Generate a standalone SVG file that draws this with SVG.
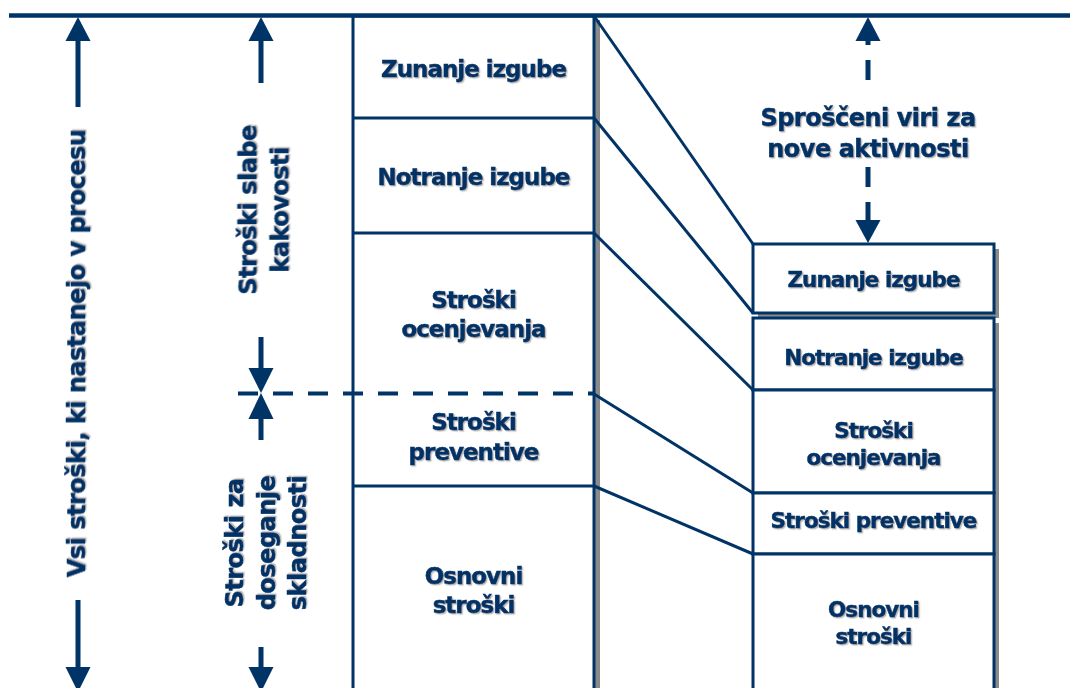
<svg xmlns="http://www.w3.org/2000/svg" width="1070" height="688" viewBox="0 0 1070 688">
  <style>
    .ln { stroke: #003366; fill: none; }
    .box { fill: #ffffff; stroke: #003366; stroke-width: 3; }
    .shadow { fill: #8a8a8a; }
    .lbl { font-family: "DejaVu Sans", Verdana, sans-serif; font-weight: bold; fill: #003366; stroke: #003366; stroke-width: 0.5px; text-anchor: middle; filter: url(#ts); }
    .big { font-size: 23px; letter-spacing: -1px; }
    .mid { font-size: 21.5px; letter-spacing: -1px; }
    .side { font-size: 24px; letter-spacing: -0.5px; }
    .head { fill: #003366; }
  </style>
  <defs>
    <filter id="ts" x="-10%" y="-20%" width="120%" height="150%">
      <feDropShadow dx="1.3" dy="1.3" stdDeviation="0.6" flood-color="#7a7a7a" flood-opacity="0.55"/>
    </filter>
  </defs>

  <rect width="1070" height="688" fill="#ffffff"/>

  <!-- left cost column -->
  <g id="left-column">
    <rect class="shadow" x="595" y="20" width="5" height="680"/>
    <rect class="box" x="353" y="16" width="241" height="700"/>
    <line class="ln" stroke-width="3" x1="353" y1="118" x2="594" y2="118"/>
    <line class="ln" stroke-width="3" x1="353" y1="233" x2="594" y2="233"/>
    <line class="ln" stroke-width="3" x1="353" y1="486" x2="594" y2="486"/>
  </g>

  <g id="left-zunanje"><text class="lbl big" x="473.5" y="77">Zunanje izgube</text></g>
  <g id="left-notranje"><text class="lbl big" x="473.5" y="185">Notranje izgube</text></g>
  <g id="left-ocenjevanje">
    <text class="lbl big" x="473.5" y="308">Stroški</text>
    <text class="lbl big" x="473.5" y="337">ocenjevanja</text>
  </g>
  <g id="left-preventiva">
    <text class="lbl big" x="473.5" y="430">Stroški</text>
    <text class="lbl big" x="473.5" y="460">preventive</text>
  </g>
  <g id="left-osnovni">
    <text class="lbl big" x="473.5" y="584">Osnovni</text>
    <text class="lbl big" x="473.5" y="613">stroški</text>
  </g>

  <!-- right cost column -->
  <g id="right-zunanje">
    <rect class="shadow" x="758" y="249" width="241" height="69"/>
    <rect class="box" x="753" y="244" width="241" height="69"/>
    <text class="lbl mid" x="873.5" y="287">Zunanje izgube</text>
  </g>
  <g id="right-notranje">
    <rect class="shadow" x="758" y="323" width="241" height="72"/>
    <rect class="box" x="753" y="318" width="241" height="72"/>
    <text class="lbl mid" x="873.5" y="365">Notranje izgube</text>
  </g>
  <g id="right-ocenjevanje">
    <rect class="shadow" x="758" y="395" width="241" height="103"/>
    <rect class="box" x="753" y="390" width="241" height="103"/>
    <text class="lbl mid" x="873.5" y="438">Stroški</text>
    <text class="lbl mid" x="873.5" y="465">ocenjevanja</text>
  </g>
  <g id="right-preventiva">
    <rect class="shadow" x="758" y="498" width="241" height="61"/>
    <rect class="box" x="753" y="493" width="241" height="61"/>
    <text class="lbl mid" x="873.5" y="528">Stroški preventive</text>
  </g>
  <g id="right-osnovni">
    <rect class="shadow" x="758" y="559" width="241" height="160"/>
    <rect class="box" x="753" y="554" width="241" height="160"/>
    <text class="lbl mid" x="873.5" y="617">Osnovni</text>
    <text class="lbl mid" x="873.5" y="644">stroški</text>
  </g>

  <!-- side labels -->
  <g id="label-vsi">
    <text class="lbl side" transform="translate(85,353.5) rotate(-90)">Vsi stroški, ki nastanejo v procesu</text>
  </g>
  <g id="label-slabe">
    <text class="lbl side" transform="translate(256.5,210) rotate(-90)">Stroški slabe</text>
    <text class="lbl side" transform="translate(288.5,210) rotate(-90)">kakovosti</text>
  </g>
  <g id="label-skladnost">
    <text class="lbl side" transform="translate(243,543) rotate(-90)">Stroški za</text>
    <text class="lbl side" transform="translate(275,543) rotate(-90)">doseganje</text>
    <text class="lbl side" transform="translate(306,543) rotate(-90)">skladnosti</text>
  </g>
  <g id="label-sproscene">
    <text class="lbl side" x="868" y="126">Sproščeni viri za</text>
    <text class="lbl side" x="868" y="157">nove aktivnosti</text>
  </g>

  <!-- connectors -->
  <g id="connectors">
    <!-- baseline of the whole process -->
    <line class="ln" stroke-width="4.5" x1="9" y1="15.5" x2="1070" y2="15.5"/>

    <!-- mapping between the two columns -->
    <line class="ln" stroke-width="3" x1="594" y1="16" x2="753" y2="244"/>
    <line class="ln" stroke-width="3" x1="594" y1="118" x2="753" y2="313"/>
    <line class="ln" stroke-width="3" x1="594" y1="233" x2="753" y2="390"/>
    <line class="ln" stroke-width="3" x1="594" y1="394" x2="753" y2="493"/>
    <line class="ln" stroke-width="3" x1="594" y1="486" x2="753" y2="554"/>

    <!-- split between failure costs and conformance costs -->
    <line class="ln" stroke-width="4" stroke-dasharray="20 15" x1="238" y1="393.5" x2="594" y2="393.5"/>

    <!-- total cost arrows -->
    <line class="ln" stroke-width="5" x1="78" y1="38" x2="78" y2="107"/>
    <polygon class="head" points="78,17 65.5,41 90.5,41"/>
    <line class="ln" stroke-width="5" x1="78" y1="600" x2="78" y2="670"/>
    <polygon class="head" points="78,692 65.5,667 90.5,667"/>

    <!-- cost of poor quality arrows -->
    <line class="ln" stroke-width="5" x1="261" y1="38" x2="261" y2="83"/>
    <polygon class="head" points="261,17 248.5,41 273.5,41"/>
    <line class="ln" stroke-width="5" x1="261" y1="337" x2="261" y2="371"/>
    <polygon class="head" points="261,393 248.5,368 273.5,368"/>

    <!-- cost of conformance arrows -->
    <line class="ln" stroke-width="5" x1="261" y1="416" x2="261" y2="440"/>
    <polygon class="head" points="261,393 248.5,419 273.5,419"/>
    <line class="ln" stroke-width="5" x1="261" y1="647" x2="261" y2="670"/>
    <polygon class="head" points="261,692 248.5,667 273.5,667"/>

    <!-- released resources, dashed double arrow -->
    <polygon class="head" points="868,17 855.5,41 880.5,41"/>
    <line class="ln" stroke-width="5" x1="868" y1="40" x2="868" y2="45"/>
    <line class="ln" stroke-width="5" x1="868" y1="60" x2="868" y2="80"/>
    <line class="ln" stroke-width="5" x1="868" y1="167" x2="868" y2="187"/>
    <line class="ln" stroke-width="5" x1="868" y1="202" x2="868" y2="222"/>
    <polygon class="head" points="868,243 855.5,220 880.5,220"/>
  </g>
</svg>
